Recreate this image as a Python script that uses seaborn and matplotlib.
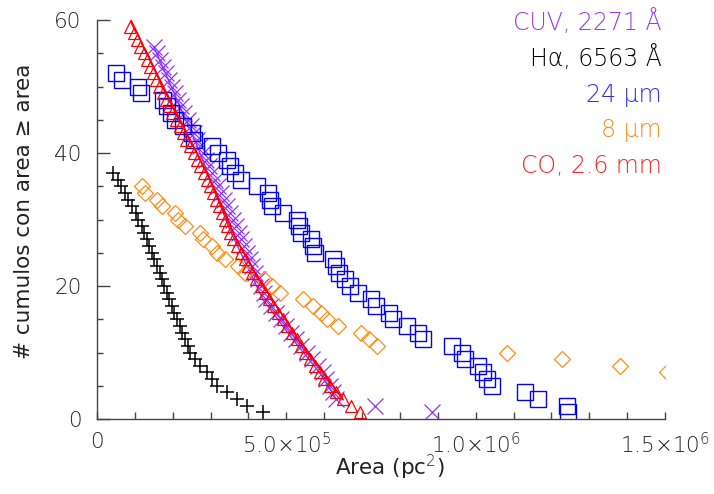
import numpy as np
import pandas as pd
import matplotlib
matplotlib.use("Agg")
import matplotlib.pyplot as plt
import seaborn as sns
from matplotlib.ticker import MultipleLocator, FixedLocator

# ---------------- data (areas in units of 1e3 pc^2) -------------
# counts run from N down to 1 (number of clumps with area >= area)
cuv_area_k = [150, 158, 166, 174, 182, 190, 198, 206, 215, 223, 231, 239, 247, 256, 264, 272,
              280, 288, 296, 304, 312, 320, 328, 336, 344, 352, 360, 367, 374, 381, 389, 396,
              403, 410, 418, 425, 432, 440, 447, 460, 473, 486, 499, 512, 526, 540, 555, 569,
              583, 597, 606, 615, 622, 630, 734, 884]
cuv_count = list(range(56, 0, -1))
cuv_line_area_k = [150, 265, 351, 439, 518, 589, 633]
cuv_line_count = [56, 41, 28.4, 17.9, 11.9, 6.9, 2.9]

ha_area_k = [43, 55, 63, 74, 83, 93, 102, 107, 118, 125, 131, 138, 144, 151, 158, 166, 171,
             178, 184, 190, 197, 204, 210, 219, 225, 232, 239, 246, 259, 272, 290, 303, 316,
             342, 369, 395, 439]
ha_count = list(range(37, 0, -1))

m24_area_k = [50, 65, 107, 115, 175, 184, 195, 206, 228, 250, 257, 303, 320, 342, 351, 364,
              380, 422, 452, 458, 463, 492, 527, 533, 540, 565, 570, 576, 624, 630, 640, 655,
              668, 690, 723, 737, 770, 782, 818, 848, 860, 937, 963, 972, 1007, 1020, 1030,
              1042, 1130, 1165, 1240, 1245]
m24_count = list(range(52, 0, -1))

m8_area_k = [118, 127, 158, 171, 206, 215, 232, 272, 281, 303, 316, 338, 373, 391, 440, 462,
             482, 545, 571, 591, 607, 637, 697, 718, 739, 1084, 1227, 1380, 1504]
m8_count = list(range(35, 6, -1))

co_area_k = [88, 97, 105, 114, 123, 132, 140, 148, 157, 165, 173, 181, 190, 199, 208, 218,
             227, 236, 246, 255, 264, 273, 282, 290, 298, 306, 313, 321, 329, 337, 344, 352,
             360, 370, 380, 390, 400, 410, 420, 432, 443, 455, 466, 478, 490, 503, 516, 528,
             538, 548, 562, 575, 588, 600, 615, 630, 650, 670, 695]
co_count = list(range(59, 0, -1))
co_line_area_k = [87, 140, 290, 368, 428, 474, 536, 554, 606, 650]
co_line_count = [60.3, 54, 37, 27, 21, 17, 11.6, 10.4, 6.4, 2.9]

labels = ["CUV, 2271 Å", "Hα, 6563 Å", "24 μm", "8 μm", "CO, 2.6 mm"]
label_colors = ["#9933ff", "black", "#2a2aff", "#ff8c1a", "#ff2222"]
x_tick_values = [0, 5e5, 1e6, 1.5e6]
x_tick_labels = ["0", r"5.0$\times$10$^5$", r"1.0$\times$10$^6$", r"1.5$\times$10$^6$"]
y_tick_values = [0, 20, 40, 60]

# ---------------- figure --------------------------------------------------------------
sns.set_theme(style="white")
plt.rcParams["font.family"] = ["DejaVu Sans"]
plt.rcParams["font.weight"] = "light"
plt.rcParams["mathtext.fontset"] = "custom"
plt.rcParams["mathtext.rm"] = "DejaVu Sans:weight=light"
plt.rcParams["mathtext.it"] = "DejaVu Sans:style=oblique:weight=400"
plt.rcParams["mathtext.bf"] = "DejaVu Sans:weight=bold"

fig = plt.figure(figsize=(7.14, 4.94), dpi=100)
ax = fig.add_axes([97 / 714, 1 - 419 / 494, 568 / 714, 399 / 494])


def frame(area_k, count):
    return pd.DataFrame({"area": np.asarray(area_k, float) * 1e3, "count": count})


purple, blue, orange, red = "#8f33ff", "#0000ff", "#ff8c1a", "#ff0000"

# CUV: x markers + line
sns.lineplot(data=frame(cuv_line_area_k, cuv_line_count), x="area", y="count", ax=ax,
             estimator=None, sort=False, color=purple, lw=1.0)
sns.lineplot(data=frame(cuv_area_k, cuv_count), x="area", y="count", ax=ax,
             estimator=None, sort=False, linestyle="none", marker="x", ms=12,
             mew=0.9, mec=purple, color=purple)
# H-alpha: plus markers
sns.lineplot(data=frame(ha_area_k, ha_count), x="area", y="count", ax=ax,
             estimator=None, sort=False, linestyle="none", marker="+", ms=10.5,
             mew=1.1, mec="black", color="black")
# 24 micron: open squares
sns.lineplot(data=frame(m24_area_k, m24_count), x="area", y="count", ax=ax,
             estimator=None, sort=False, linestyle="none", marker="s", ms=11.5,
             mew=1.0, mec=blue, mfc="none", color=blue)
# 8 micron: open diamonds
sns.lineplot(data=frame(m8_area_k, m8_count), x="area", y="count", ax=ax,
             estimator=None, sort=False, linestyle="none", marker="D", ms=8.5,
             mew=0.9, mec=orange, mfc="none", color=orange)
# CO: open triangles + line
sns.lineplot(data=frame(co_area_k, co_count), x="area", y="count", ax=ax,
             estimator=None, sort=False, linestyle="none", marker="^", ms=9,
             mew=0.9, mec=red, mfc="none", color=red)
sns.lineplot(data=frame(co_line_area_k, co_line_count), x="area", y="count", ax=ax,
             estimator=None, sort=False, color=red, lw=1.2)

ax.set_xlim(0, 1.5e6)
ax.set_ylim(0, 60)
for s in ["top", "right"]:
    ax.spines[s].set_visible(False)
for s in ["left", "bottom"]:
    ax.spines[s].set_color("#444444")
    ax.spines[s].set_linewidth(1.0)

ax.xaxis.set_major_locator(FixedLocator(x_tick_values))
ax.set_xticklabels(x_tick_labels)
ax.xaxis.set_minor_locator(MultipleLocator(1e5))
ax.yaxis.set_major_locator(FixedLocator(y_tick_values))
ax.yaxis.set_minor_locator(MultipleLocator(5))
ax.tick_params(axis="both", which="both", direction="in", color="#444444",
               bottom=True, left=True, top=False, right=False)
ax.tick_params(axis="x", which="major", length=5, width=1, pad=9, labelsize=15.5)
ax.tick_params(axis="x", which="minor", length=5, width=1)
ax.tick_params(axis="y", which="major", length=9, width=1, pad=11, labelsize=15.5)
ax.tick_params(axis="y", which="minor", length=4.5, width=1)
for t in ax.get_xticklabels() + ax.get_yticklabels():
    t.set_color("#222222")

ax.set_xlabel(r"Area (pc$^2$)", fontsize=15.5, color="#222222")
ax.set_ylabel("# cumulos con area ≥ area", fontsize=15.5, color="#222222")
ax.xaxis.set_label_coords((390 - 97) / 568, -0.085)
ax.yaxis.set_label_coords((34 - 97) / 568, 0.52)

baselines = [30, 65.7, 101.7, 136.7, 172.7]
for text, col, yb in zip(labels, label_colors, baselines):
    fig.text(662 / 714, 1 - yb / 494, text, color=col, ha="right", va="baseline",
             fontsize=17)

fig.savefig("out.png", dpi=100)
